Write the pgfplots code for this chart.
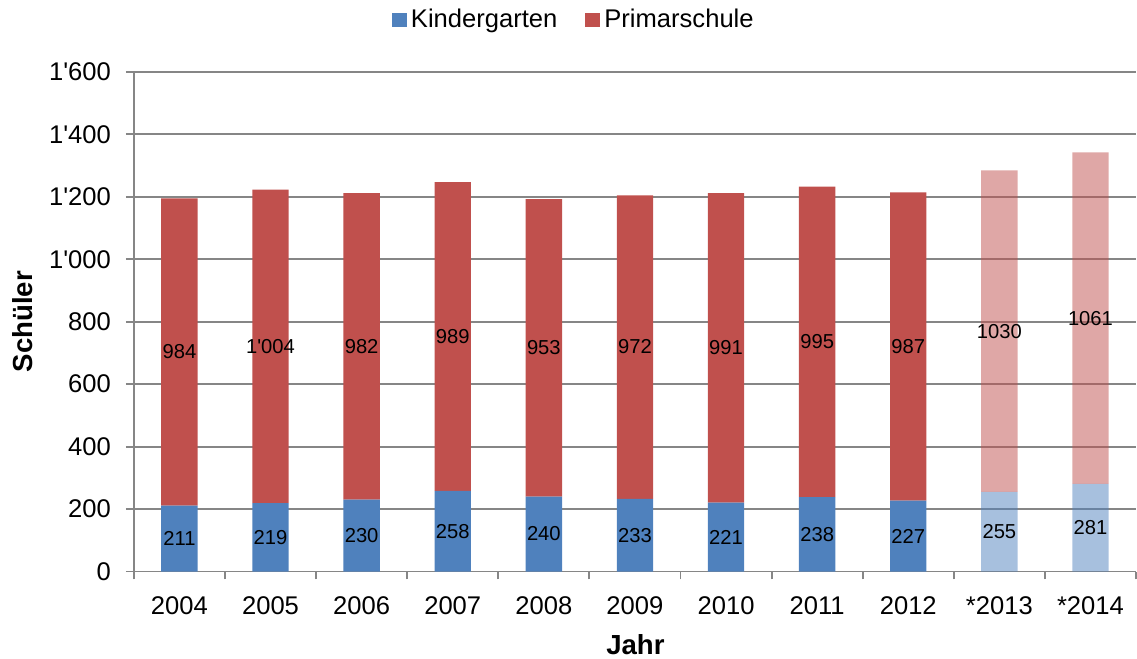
\documentclass[border=0pt]{standalone}
\usepackage{pgfplots}
\pgfplotsset{compat=1.18}
\usepackage{pgfplotstable}
\usepackage{fontspec}
\setmainfont{Liberation Sans}
\definecolor{kgblue}{HTML}{4F81BD}
\definecolor{psred}{HTML}{C0504D}
\definecolor{gridgrey}{HTML}{868686}

% dark years and light (forecast) years kept separate, zeros elsewhere for index stacking
\pgfplotstableread{
x kgd psd kgl psl
0 211 984 0 0
1 219 1004 0 0
2 230 982 0 0
3 258 989 0 0
4 240 953 0 0
5 233 972 0 0
6 221 991 0 0
7 238 995 0 0
8 227 987 0 0
9 0 0 255 1030
10 0 0 281 1061
}\datatab

\pgfplotstableread{
x y lab
0 105.5 211
1 109.5 219
2 115 230
3 129 258
4 120 240
5 116.5 233
6 110.5 221
7 119 238
8 113.5 227
9 127.5 255
10 140.5 281
}\kglabels

\pgfplotstableread{
x y lab
0 703 984
1 721 1\textquotesingle 004
2 721 982
3 752.5 989
4 716.5 953
5 719 972
6 716.5 991
7 735.5 995
8 720.5 987
9 770 1030
10 811.5 1061
}\pslabels

\begin{document}
\begin{tikzpicture}[font=\fontsize{12.8}{15}\selectfont]
\begin{axis}[
  scale only axis,
  width=501.5pt, height=250pt,
  xmin=-0.5, xmax=10.5,
  ymin=0, ymax=1600,
  ybar stacked,
  bar width=18.2pt,
  xtick={0,...,10},
  xticklabels={2004,2005,2006,2007,2008,2009,2010,2011,2012,*2013,*2014},
  minor xtick={-0.5,0.5,...,10.5},
  major x tick style={draw=none},
  minor x tick style={draw=gridgrey, line width=0.9pt},
  minor tick length=4pt,
  ytick={0,200,...,1600},
  yticklabels={0,200,400,600,800,1\textquotesingle 000,1\textquotesingle 200,1\textquotesingle 400,1\textquotesingle 600},
  major y tick style={draw=gridgrey, line width=0.9pt},
  major tick length=4pt,
  tick align=outside,
  ymajorgrids,
  grid style={draw=gridgrey, line width=0.9pt},
  axis x line*=bottom,
  axis y line*=left,
  axis line style={draw=gridgrey, line width=0.9pt},
  xticklabel style={yshift=-5pt},
  yticklabel style={xshift=-4pt},
  xlabel={\bfseries Jahr},
  ylabel={\bfseries Schüler},
  xlabel style={font=\fontsize{13.8}{16}\selectfont, at={(axis description cs:0.5005,-0.146)}, anchor=center},
  ylabel style={font=\fontsize{13.8}{16}\selectfont, at={(axis description cs:-0.1107,0.5)}, anchor=center},
  legend style={draw=none, at={(axis description cs:0.44,1.104)}, anchor=center,
    legend columns=2, /tikz/every even column/.append style={column sep=12pt},
    font=\fontsize{12.8}{15}\selectfont},
  legend image code/.code={\fill[#1] (0pt,-3.7pt) rectangle (7.5pt,3.7pt);},
]
\addplot[fill=kgblue, draw=none] table[x=x, y=kgd] {\datatab};
\addlegendentry{Kindergarten}
\addplot[fill=psred, draw=none] table[x=x, y=psd] {\datatab};
\addlegendentry{Primarschule}
\addplot[fill=kgblue, fill opacity=0.5, draw=none, forget plot] table[x=x, y=kgl] {\datatab};
\addplot[fill=psred, fill opacity=0.5, draw=none, forget plot] table[x=x, y=psl] {\datatab};
\coordinate (ll) at (rel axis cs:0,0);
\coordinate (ur) at (rel axis cs:1,1);
\end{axis}
\begin{axis}[
  scale only axis,
  width=501.5pt, height=250pt,
  xmin=-0.5, xmax=10.5,
  ymin=0, ymax=1600,
  hide axis,
]
\addplot[draw=none, mark=none, nodes near coords, point meta=explicit symbolic,
  every node near coord/.append style={anchor=center, font=\fontsize{10.1}{12}\selectfont, text=black}]
  table[x=x, y=y, meta=lab] {\kglabels};
\addplot[draw=none, mark=none, nodes near coords, point meta=explicit symbolic,
  every node near coord/.append style={anchor=center, font=\fontsize{10.1}{12}\selectfont, text=black}]
  table[x=x, y=y, meta=lab] {\pslabels};
\end{axis}
\pgfresetboundingbox
\path[use as bounding box] ([xshift=-67pt,yshift=-43.5pt]ll) rectangle ([xshift=0.5pt,yshift=36pt]ur);
\end{tikzpicture}
\end{document}
